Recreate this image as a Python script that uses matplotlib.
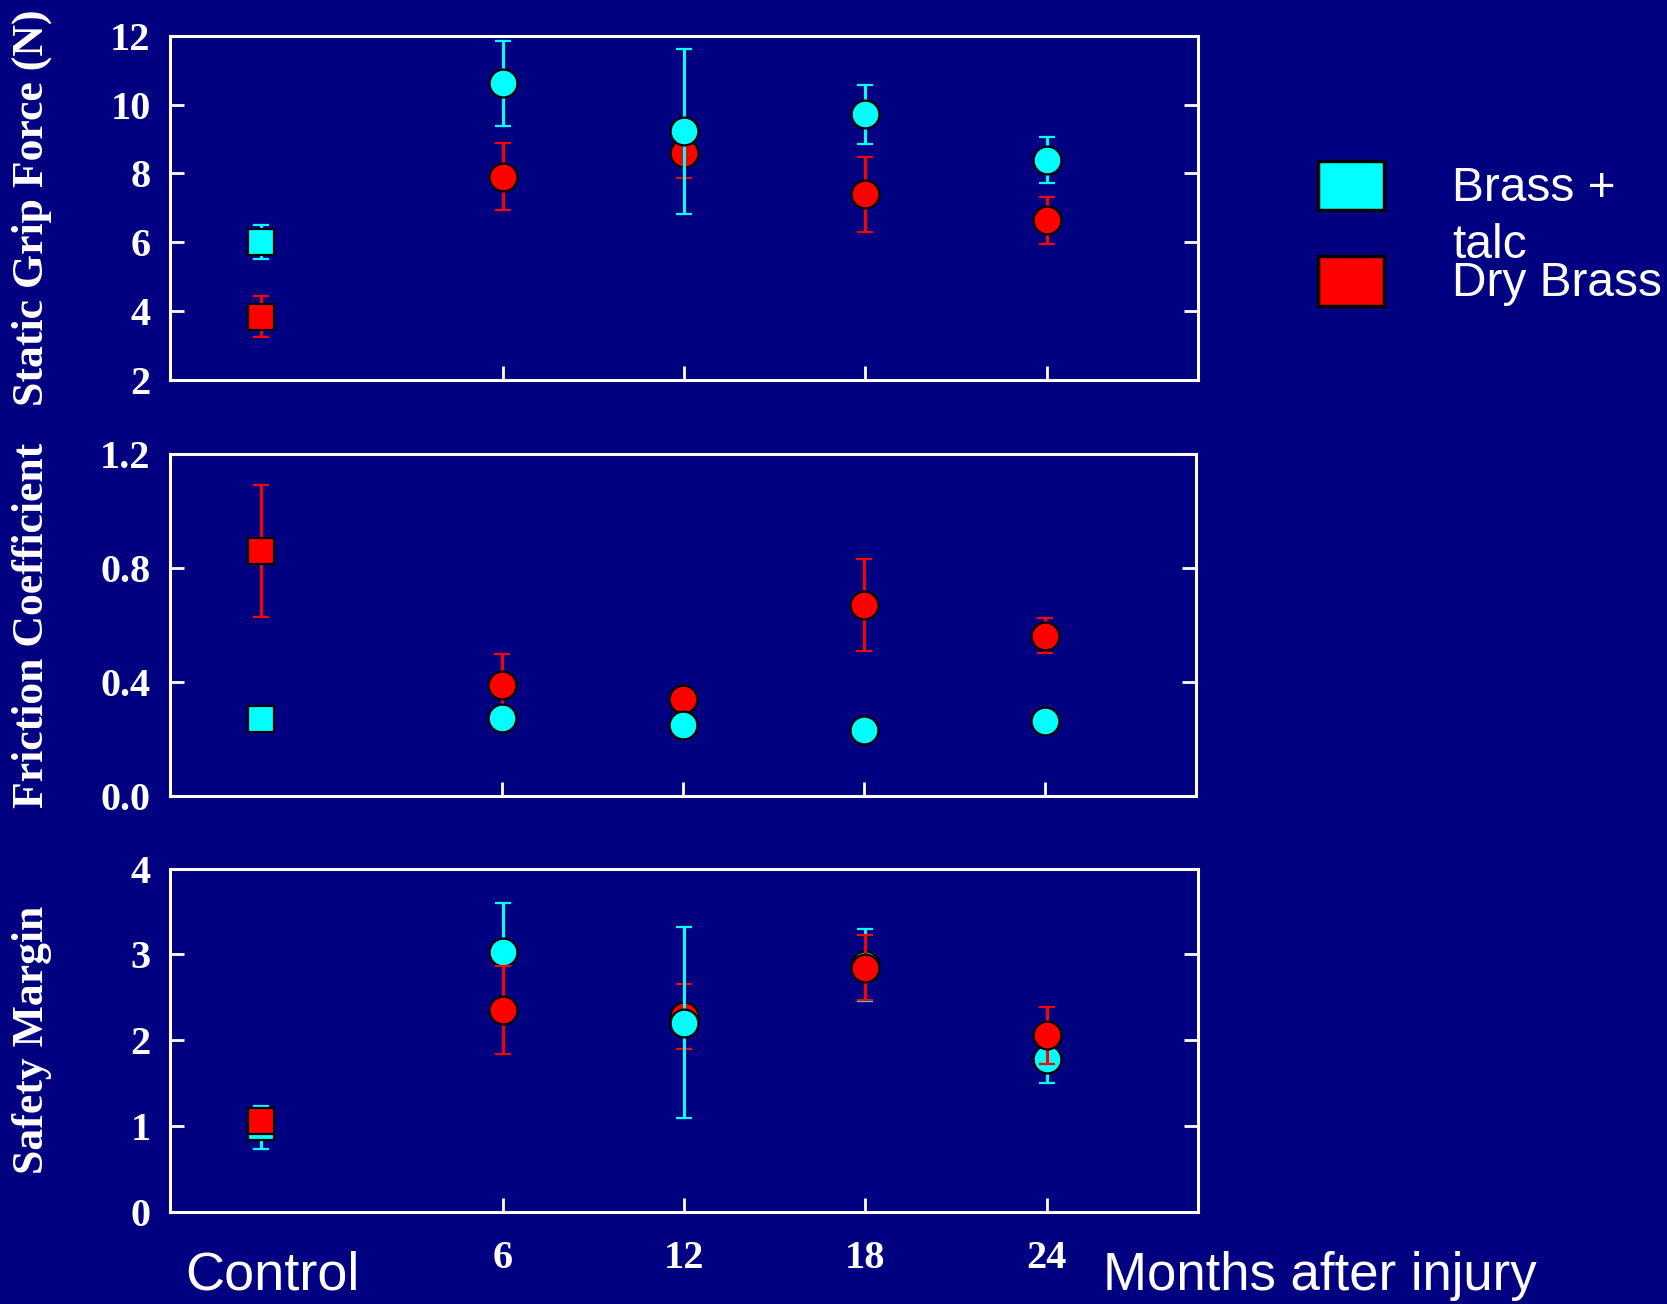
import matplotlib.pyplot as plt
from matplotlib.patches import Rectangle

# x positions: months after injury, control sits left of the axis break
months = [6, 12, 18, 24]
month_labels = ["6", "12", "18", "24"]
control_x = -2

# Static grip force (N)
grip_ctrl_talc, grip_ctrl_talc_err = 6.0, 0.5
grip_ctrl_dry, grip_ctrl_dry_err = 3.83, 0.6
grip_talc = [10.62, 9.23, 9.72, 8.39]
grip_talc_err = [1.25, 2.4, 0.85, 0.66]
grip_dry = [7.91, 8.60, 7.39, 6.64]
grip_dry_err = [0.98, 0.73, 1.09, 0.68]

# Friction coefficient
fric_ctrl_talc, fric_ctrl_talc_err = 0.27, 0.02
fric_ctrl_dry, fric_ctrl_dry_err = 0.86, 0.23
fric_talc = [0.274, 0.25, 0.231, 0.265]
fric_talc_err = [0.02, 0.02, 0.02, 0.02]
fric_dry = [0.39, 0.34, 0.671, 0.563]
fric_dry_err = [0.11, 0.03, 0.162, 0.062]

# Safety margin
safe_ctrl_talc, safe_ctrl_talc_err = 0.985, 0.25
safe_ctrl_dry, safe_ctrl_dry_err = 1.055, 0.1
safe_talc = [3.03, 2.207, 2.877, 1.778]
safe_talc_err = [0.575, 1.11, 0.42, 0.27]
safe_dry = [2.351, 2.28, 2.846, 2.058]
safe_dry_err = [0.51, 0.38, 0.38, 0.33]

NAVY = "#000080"
CYAN = "#00FFFF"
RED = "#FF0000"
W, H = 1667, 1304

plt.rcParams["font.family"] = ["Liberation Serif", "DejaVu Serif"]
plt.rcParams["font.weight"] = "bold"


def px(x, y):
    return x / W, 1 - y / H


def draw_series(ax, cx, cy, cerr, ys, errs, color, z, month_z=None):
    style = dict(color=color, ecolor=color, mfc=color, mec="black", mew=1.6,
                 elinewidth=2.2, capsize=5.5, capthick=2.6, linestyle="none")
    ax.errorbar([cx], [cy], yerr=[cerr], marker="s", ms=19, zorder=z, **style)
    if month_z is None:
        month_z = [z] * len(months)
    for m, y, e, mz in zip(months, ys, errs, month_z):
        ax.errorbar([m], [y], yerr=[e], marker="o", ms=20, zorder=mz, **style)


def setup(ax, ylim, yticks, ylabels, show_x):
    ax.set_facecolor(NAVY)
    for s in ax.spines.values():
        s.set_color("white")
        s.set_linewidth(2.2)
        s.set_zorder(10)
    ax.set_xlim(-5, 29)
    ax.set_ylim(*ylim)
    ax.set_xticks(months)
    ax.set_xticklabels(month_labels if show_x else [])
    ax.set_yticks(yticks)
    ax.set_yticklabels(ylabels)
    ax.tick_params(axis="x", direction="in", length=10, width=2,
                   colors="white", labelsize=29, pad=20, top=False)
    ax.tick_params(axis="y", direction="in", length=10, width=2,
                   colors="white", labelsize=29, pad=14, left=True, right=True)


fig = plt.figure(figsize=(W / 100, H / 100), dpi=100, facecolor=NAVY)

# top panel: grip force (talc drawn over dry)
ax1 = fig.add_axes([170 / W, 1 - 379.5 / H, 1028 / W, 343.4 / H])
draw_series(ax1, control_x, grip_ctrl_dry, grip_ctrl_dry_err, grip_dry, grip_dry_err, RED, 2)
draw_series(ax1, control_x, grip_ctrl_talc, grip_ctrl_talc_err, grip_talc, grip_talc_err, CYAN, 3)
setup(ax1, (2, 12), [2, 4, 6, 8, 10, 12], ["2", "4", "6", "8", "10", "12"], False)

# middle panel: friction coefficient
ax2 = fig.add_axes([170 / W, 1 - 796.3 / H, 1026 / W, 342.3 / H])
draw_series(ax2, control_x, fric_ctrl_dry, fric_ctrl_dry_err, fric_dry, fric_dry_err, RED, 2)
draw_series(ax2, control_x, fric_ctrl_talc, fric_ctrl_talc_err, fric_talc, fric_talc_err, CYAN, 3)
setup(ax2, (0, 1.2), [0, 0.4, 0.8, 1.2], ["0.0", "0.4", "0.8", "1.2"], False)

# bottom panel: safety margin (dry on top, except at 12 months)
ax3 = fig.add_axes([170 / W, 1 - 1212 / H, 1028 / W, 343.4 / H])
draw_series(ax3, control_x, safe_ctrl_talc, safe_ctrl_talc_err, safe_talc, safe_talc_err, CYAN, 2,
            month_z=[2, 4, 2, 2])
draw_series(ax3, control_x, safe_ctrl_dry, safe_ctrl_dry_err, safe_dry, safe_dry_err, RED, 3)
setup(ax3, (0, 4), [0, 1, 2, 3, 4], ["0", "1", "2", "3", "4"], True)

# y labels
for ax, label in [(ax1, "Static Grip Force (N)"), (ax2, "Friction Coefficient"),
                  (ax3, "Safety Margin")]:
    b = ax.get_position()
    fig.text(32 / W, (b.y0 + b.y1) / 2, label, rotation=90, ha="center",
             va="center", color="white", fontsize=31.5, fontweight="bold")

# x annotations
fig.text(*px(272, 1276), "Control", family="Liberation Sans", fontweight="normal",
         fontsize=39, color="white", ha="center", va="center")
fig.text(*px(1103, 1276), "Months after injury", family="Liberation Sans",
         fontweight="normal", fontsize=38, color="white", ha="left", va="center")

# legend
for y0, y1, color in [(161, 210, CYAN), (256, 306, RED)]:
    x0, yb = px(1318, y1)
    fig.patches.append(Rectangle((x0, yb), 66 / W, (y1 - y0) / H, transform=fig.transFigure,
                                 facecolor=color, edgecolor="black", linewidth=2.5))
for y, t in [(201, "Brass +"), (258, "talc"), (296, "Dry Brass")]:
    fig.text(*px(1452, y), t, family="Liberation Sans", fontweight="normal",
             fontsize=34.5, color="white", ha="left", va="baseline")

fig.savefig("out.png", dpi=100, facecolor=NAVY)
